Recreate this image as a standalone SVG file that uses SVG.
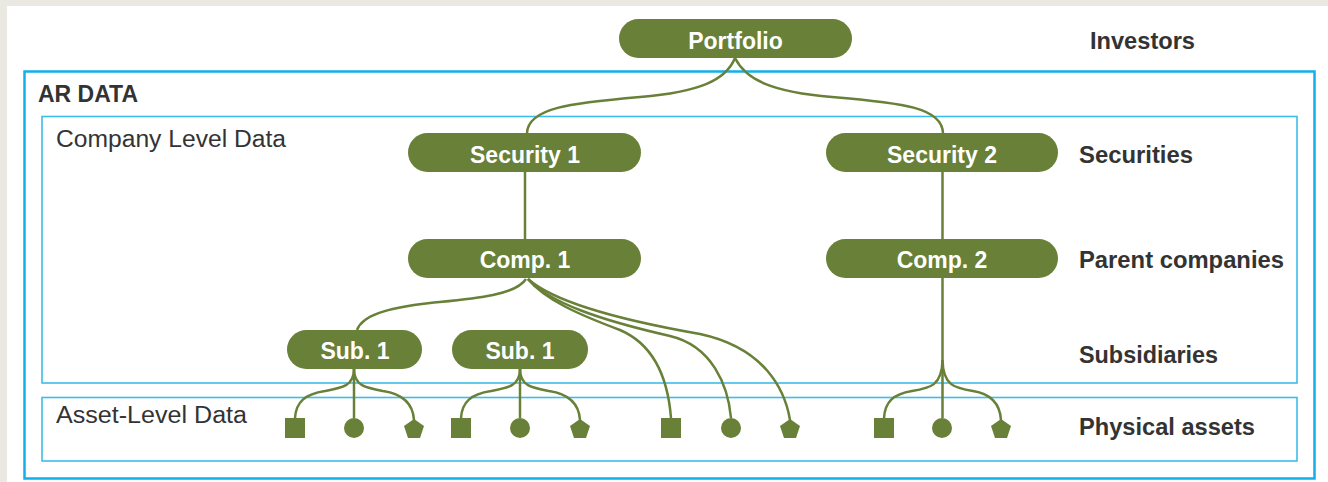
<svg xmlns="http://www.w3.org/2000/svg" width="1328" height="482" viewBox="0 0 1328 482">
<style>
.node{fill:#688037}
.nt{font-family:"Liberation Sans",Arial,sans-serif;font-weight:bold;font-size:23px;fill:#ffffff;text-anchor:middle}
.lbl{font-family:"Liberation Sans",Arial,sans-serif;font-weight:bold;font-size:23px;fill:#333333}
.reg{font-family:"Liberation Sans",Arial,sans-serif;font-size:23px;fill:#333333}
.conn{fill:none;stroke:#688037;stroke-width:2.5}
.asset{fill:#688037}
.frame{fill:none;stroke:#12b0ea;stroke-width:2.5}
.inner{fill:none;stroke:#3dbde9;stroke-width:1.6}
</style>
<rect x="0" y="0" width="1328" height="482" fill="#e9e9e2"/>
<rect x="7" y="6" width="1321" height="476" fill="#ffffff"/>
<g id="frames">
<rect class="frame" x="24.5" y="71.5" width="1290" height="407"/>
<rect class="inner" x="42" y="116.5" width="1255" height="266.5"/>
<rect class="inner" x="42" y="397.5" width="1255" height="63.5"/>
<text class="lbl" x="38" y="102">AR DATA</text>
<text class="reg" x="56" y="147" textLength="230" lengthAdjust="spacingAndGlyphs">Company Level Data</text>
<text class="reg" x="56" y="423" textLength="191" lengthAdjust="spacingAndGlyphs">Asset-Level Data</text>
</g>
<g id="connectors">
<path class="conn" d="M735,58 C726,80 700,92 640,97 C570,103 528,108 527,133"/>
<path class="conn" d="M735,58 C746,80 772,92 832,97 C905,103 942,108 943,133"/>
<path class="conn" d="M525,172 L525,239"/>
<path class="conn" d="M942.5,172 L942.5,239"/>
<path class="conn" d="M526,279 C515,296 470,299 430,303 C385,308 362,316 357,330"/>
<path class="conn" d="M528,279 C545,300 580,315 620,330 C655,345 668,380 671,418"/>
<path class="conn" d="M528,279 C550,303 600,320 670,336 C712,346 728,385 731,418"/>
<path class="conn" d="M528,279 C555,303 620,320 700,334 C765,348 785,390 790,420"/>
<path class="conn" d="M942.5,278 L942.5,418"/>
<path class="conn" d="M942.5,360 C942,386 930,388 912,391 C893,394 885,402 884,418"/>
<path class="conn" d="M942.5,360 C943,386 955,388 973,391 C992,394 1000,404 1001,420"/>
<path class="conn" d="M354,369 L354,418"/>
<path class="conn" d="M354,369 C354,386 342,388 325,391 C305,394 296,402 295,418"/>
<path class="conn" d="M354,369 C354,386 366,388 383,391 C403,394 413,404 414,420"/>
<path class="conn" d="M520,369 L520,418"/>
<path class="conn" d="M520,369 C520,386 508,388 491,391 C471,394 462,402 461,418"/>
<path class="conn" d="M520,369 C520,386 532,388 549,391 C569,394 579,404 580,420"/>
</g>
<g id="portfolio"><rect class="node" x="619" y="19" width="233" height="39" rx="19.5"/><text class="nt" x="735.5" y="49">Portfolio</text></g>
<g id="security1"><rect class="node" x="408" y="133" width="233" height="39" rx="19.5"/><text class="nt" x="525" y="163">Security 1</text></g>
<g id="security2"><rect class="node" x="826" y="133" width="232" height="39" rx="19.5"/><text class="nt" x="942" y="163">Security 2</text></g>
<g id="comp1"><rect class="node" x="408" y="239" width="233" height="39" rx="19.5"/><text class="nt" x="525" y="268">Comp. 1</text></g>
<g id="comp2"><rect class="node" x="826" y="239" width="232" height="39" rx="19.5"/><text class="nt" x="942" y="268">Comp. 2</text></g>
<g id="sub1a"><rect class="node" x="287" y="330" width="135" height="39" rx="19.5"/><text class="nt" x="355" y="359">Sub. 1</text></g>
<g id="sub1b"><rect class="node" x="452" y="330" width="136" height="39" rx="19.5"/><text class="nt" x="520" y="359">Sub. 1</text></g>
<g id="assets">
<rect class="asset" x="285" y="418" width="20" height="20"/>
<circle class="asset" cx="354" cy="428" r="10"/>
<polygon class="asset" points="414,419 424,426 420,438 408,438 404,426"/>
<rect class="asset" x="451" y="418" width="20" height="20"/>
<circle class="asset" cx="520" cy="428" r="10"/>
<polygon class="asset" points="580,419 590,426 586,438 574,438 570,426"/>
<rect class="asset" x="661" y="418" width="20" height="20"/>
<circle class="asset" cx="731" cy="428" r="10"/>
<polygon class="asset" points="790,419 800,426 796,438 784,438 780,426"/>
<rect class="asset" x="874" y="418" width="20" height="20"/>
<circle class="asset" cx="942" cy="428" r="10"/>
<polygon class="asset" points="1001,419 1011,426 1007,438 995,438 991,426"/>
</g>
<g id="labels">
<text class="lbl" x="1090" y="49" textLength="105" lengthAdjust="spacingAndGlyphs">Investors</text>
<text class="lbl" x="1079" y="163" textLength="114" lengthAdjust="spacingAndGlyphs">Securities</text>
<text class="lbl" x="1079" y="268" textLength="205" lengthAdjust="spacingAndGlyphs">Parent companies</text>
<text class="lbl" x="1079" y="363" textLength="139" lengthAdjust="spacingAndGlyphs">Subsidiaries</text>
<text class="lbl" x="1079" y="435" textLength="176" lengthAdjust="spacingAndGlyphs">Physical assets</text>
</g>
</svg>
